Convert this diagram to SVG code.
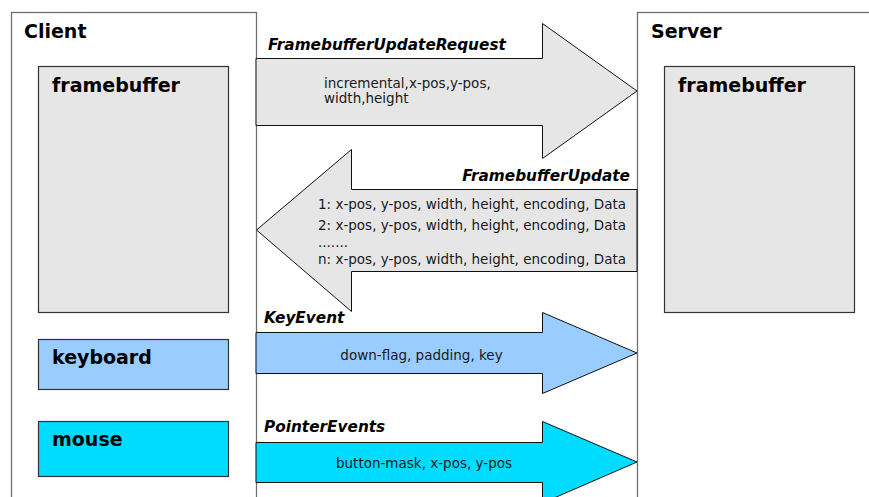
<svg xmlns="http://www.w3.org/2000/svg" width="869" height="497" viewBox="0 0 869 497">
<style>
.outer{fill:#fff;stroke:#707070;stroke-width:1.3}
.box{stroke:#333;stroke-width:1.2}
.grey{fill:#e6e6e6}
.kb{fill:#99ccff}
.ms{fill:#00dcff}
.arrow{stroke:#111;stroke-width:1}
.title{font-family:"DejaVu Sans",Verdana,sans-serif;font-weight:bold;font-size:19px;fill:#000}
.msg{font-family:"DejaVu Sans",Verdana,sans-serif;font-weight:bold;font-style:italic;font-size:15.3px;fill:#000}
.body{font-family:"DejaVu Sans",Verdana,sans-serif;font-size:13.5px;fill:#1a1a1a}
</style>
<rect width="869" height="497" fill="#fff"/>
<g id="client">
<rect class="outer" x="11.5" y="12.5" width="245" height="500"/>
<text class="title" x="24" y="38">Client</text>
</g>
<g id="server">
<rect class="outer" x="637.5" y="12.5" width="250" height="500"/>
<text class="title" x="651" y="38">Server</text>
</g>
<g id="client-framebuffer">
<rect class="box grey" x="38.5" y="66.5" width="190" height="246"/>
<text class="title" x="52" y="92">framebuffer</text>
</g>
<g id="keyboard">
<rect class="box kb" x="38.5" y="339.5" width="190" height="50"/>
<text class="title" x="52" y="364">keyboard</text>
</g>
<g id="mouse">
<rect class="box ms" x="38.5" y="421.5" width="190" height="55"/>
<text class="title" x="52" y="446">mouse</text>
</g>
<g id="server-framebuffer">
<rect class="box grey" x="664.5" y="66.5" width="190" height="246"/>
<text class="title" x="678" y="92">framebuffer</text>
</g>
<g id="connectors">
<polygon class="arrow grey" points="256,58.5 542.5,58.5 542.5,23.5 637,91 542.5,158.5 542.5,125.5 256,125.5"/>
<text class="msg" x="268" y="50">FramebufferUpdateRequest</text>
<text class="body" x="324" y="88">incremental,x-pos,y-pos,</text>
<text class="body" x="324" y="103">width,height</text>

<polygon class="arrow grey" points="637,189.5 351.5,189.5 351.5,149.5 256.5,230 351.5,311.5 351.5,271.5 637,271.5"/>
<text class="msg" x="630" y="181" text-anchor="end">FramebufferUpdate</text>
<text class="body" x="318" y="209">1: x-pos, y-pos, width, height, encoding, Data</text>
<text class="body" x="318" y="230">2: x-pos, y-pos, width, height, encoding, Data</text>
<text class="body" x="318" y="247">.......</text>
<text class="body" x="318" y="264">n: x-pos, y-pos, width, height, encoding, Data</text>

<polygon class="arrow kb" points="256,332.5 542.5,332.5 542.5,312.5 637,353 542.5,393.5 542.5,373.5 256,373.5"/>
<text class="msg" x="264" y="323">KeyEvent</text>
<text class="body" x="421.5" y="360" text-anchor="middle">down-flag, padding, key</text>

<polygon class="arrow ms" points="256,442.5 542.5,442.5 542.5,421.5 637,462 542.5,503 542.5,482.5 256,482.5"/>
<text class="msg" x="264" y="432">PointerEvents</text>
<text class="body" x="424" y="468" text-anchor="middle">button-mask, x-pos, y-pos</text>
</g>
</svg>
